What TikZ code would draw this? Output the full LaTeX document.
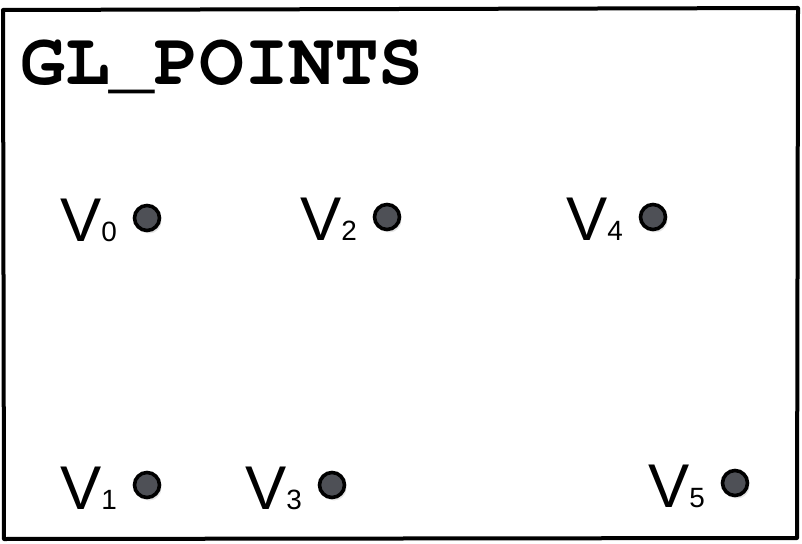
\documentclass[tikz,border=0pt]{standalone}
\usepackage{fontspec}
\setmainfont{Liberation Sans}
\newfontfamily\titlefont{TeX Gyre Cursor}
\usetikzlibrary{positioning, shadows}

\definecolor{dotgray}{RGB}{78,80,86}

\tikzset{
    vertex/.style={circle, draw=black, line width=3.6bp, fill=dotgray, minimum size=25bp, inner sep=0pt,
        drop shadow={shadow xshift=2bp, shadow yshift=-3bp, opacity=0.2}},
    vlabel/.style={anchor=base east, inner sep=0pt, font=\fontsize{62}{62}\selectfont},
}

\begin{document}
\begin{tikzpicture}[x=1bp, y=-1bp]

    % 画布与外框
    \useasboundingbox (0,0) rectangle (802,544);
    \fill[white] (0,0) rectangle (802,544);
    \draw[line width=4bp, line join=round] (3,10) -- (798,8) -- (797,538) -- (4,539) -- cycle;

    % 标题
    \node[anchor=base west, inner sep=0pt, font=\titlefont\bfseries\fontsize{75}{75}\selectfont] (title) at (20,85) {GL\_POINTS};

    % 六个顶点: 编号/x/y
    \foreach \i/\cx/\cy in {0/147/218, 1/147/485, 2/387/217, 3/332/485, 4/653/217, 5/735/483}
    {
        \node[vertex] (v\i) at (\cx,\cy) {};
        \pgfmathsetmacro{\lx}{\cx - 30}
        \pgfmathsetmacro{\ly}{\cy + 24}
        \node[vlabel] (l\i) at (\lx,\ly) {V{\fontsize{28}{28}\selectfont\i}};
    }

\end{tikzpicture}
\end{document}
